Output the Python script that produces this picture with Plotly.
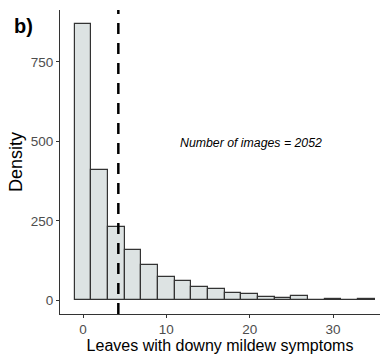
import plotly.graph_objects as go

# Histogram data (bin centers, width 2)
bin_centers = [0, 2, 4, 6, 8, 10, 12, 14, 16, 18, 20, 22, 24, 26, 28, 30, 32, 34]
counts = [868, 410, 229, 157, 111, 73, 59, 43, 36, 24, 19, 9, 7, 14, 2, 5, 2, 4]
bin_width = 2
mean_value = 4.24
n_images = 2052
x_ticks = [0, 10, 20, 30]
y_ticks = [0, 250, 500, 750]

FONT = "Liberation Sans, Arial, sans-serif"

fig = go.Figure()
fig.add_trace(go.Bar(
    x=bin_centers, y=counts, width=[bin_width] * len(bin_centers),
    marker=dict(color="#dde3e3", line=dict(color="#333333", width=1.2)),
    showlegend=False,
))

fig.add_shape(type="line", xref="x", yref="paper", x0=mean_value, x1=mean_value,
              y0=0, y1=1, line=dict(color="black", width=2.5, dash="11px,9px"))

fig.add_annotation(x=20.2, y=495, xref="x", yref="y",
                   text=f"<i>Number of images = {n_images}</i>", showarrow=False,
                   font=dict(family=FONT, size=12.3, color="black"))

fig.add_annotation(x=-0.15, y=0.99, xref="paper", yref="paper",
                   xanchor="left", yanchor="top", text="<b>b)</b>", showarrow=False,
                   font=dict(family=FONT, size=20, color="black"))

fig.update_layout(
    width=380, height=355,
    margin=dict(l=60, r=0, t=10, b=41),
    plot_bgcolor="white", paper_bgcolor="white",
    bargap=0,
    font=dict(family=FONT),
    xaxis=dict(
        range=[-2.76, 35.64], tickvals=x_ticks, ticks="outside", ticklen=3,
        tickcolor="#333333", showline=True, linecolor="#333333", linewidth=1.1,
        showgrid=False, zeroline=False,
        tickfont=dict(family=FONT, size=13.5, color="#4d4d4d"),
        title=dict(text="Leaves with downy mildew symptoms",
                   font=dict(family=FONT, size=16, color="black"), standoff=1),
    ),
    yaxis=dict(
        range=[-43.5, 913.5], tickvals=y_ticks, ticks="outside", ticklen=3,
        tickcolor="#333333", showline=True, linecolor="#333333", linewidth=1.1,
        showgrid=False, zeroline=False,
        tickfont=dict(family=FONT, size=13.5, color="#4d4d4d"),
        title=dict(text="Density",
                   font=dict(family=FONT, size=18, color="black"), standoff=3),
    ),
)

fig.write_html("out.html")
